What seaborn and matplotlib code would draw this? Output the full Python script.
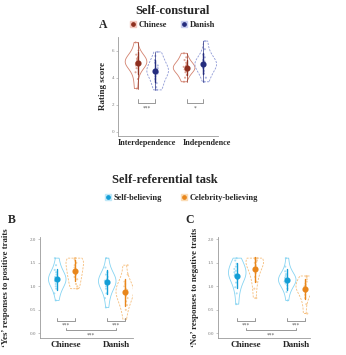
import numpy as np
import pandas as pd
import matplotlib
matplotlib.use("Agg")
import matplotlib.pyplot as plt
import matplotlib.transforms as mtrans
from matplotlib.lines import Line2D
import seaborn as sns

sns.set_style("white")
plt.rcParams['font.family'] = ['Liberation Serif', 'DejaVu Serif']

# ---------------- data ----------------
a_categories = ["Interdependence", "Independence"]
a_groups = ["Chinese", "Danish"]
a_inter_chinese = [3.2, 3.9, 4.4, 4.7, 4.9, 5.0, 5.1, 5.1, 5.2, 5.3, 5.4, 5.5, 5.7, 6.0, 6.6]
a_inter_danish = [3.1, 3.3, 3.6, 3.9, 4.1, 4.3, 4.4, 4.5, 4.6, 4.7, 4.9, 5.1, 5.3, 5.6, 5.9]
a_indep_chinese = [3.7, 4.0, 4.2, 4.4, 4.5, 4.6, 4.7, 4.7, 4.8, 4.9, 5.0, 5.1, 5.3, 5.5, 5.8]
a_indep_danish = [3.7, 4.0, 4.3, 4.5, 4.7, 4.8, 4.9, 5.0, 5.1, 5.2, 5.3, 5.5, 5.7, 6.1, 6.7]
a_sig = ["***", "*"]

bc_categories = ["Chinese", "Danish"]
bc_conditions = ["Self-believing", "Celebrity-believing"]
b_chinese_self = [0.70, 0.85, 0.95, 1.00, 1.05, 1.10, 1.12, 1.15, 1.18, 1.20, 1.25, 1.30, 1.35, 1.45, 1.60]
b_chinese_celeb = [0.95, 1.00, 1.05, 1.15, 1.20, 1.25, 1.30, 1.35, 1.40, 1.45, 1.50, 1.55, 1.58, 1.60, 1.60]
b_danish_self = [0.55, 0.75, 0.85, 0.95, 1.00, 1.05, 1.08, 1.10, 1.12, 1.15, 1.20, 1.25, 1.30, 1.40, 1.60]
b_danish_celeb = [0.30, 0.50, 0.60, 0.68, 0.75, 0.80, 0.85, 0.88, 0.92, 0.95, 1.00, 1.05, 1.10, 1.25, 1.45]
c_chinese_self = [0.62, 0.85, 0.98, 1.08, 1.15, 1.20, 1.23, 1.26, 1.30, 1.33, 1.37, 1.42, 1.48, 1.55, 1.60]
c_chinese_celeb = [0.75, 0.95, 1.10, 1.20, 1.28, 1.35, 1.40, 1.45, 1.50, 1.52, 1.55, 1.58, 1.60, 1.60, 1.60]
c_danish_self = [0.70, 0.88, 0.95, 1.02, 1.06, 1.10, 1.12, 1.14, 1.16, 1.18, 1.22, 1.26, 1.32, 1.42, 1.60]
c_danish_celeb = [0.42, 0.62, 0.75, 0.82, 0.88, 0.92, 0.95, 0.98, 1.00, 1.03, 1.06, 1.10, 1.15, 1.20, 1.22]
bc_sig = "***"

a_line = {"Chinese": "#d3826f", "Danish": "#8d98d6"}
a_dark = {"Chinese": "#8e2f1f", "Danish": "#262d7e"}
a_light = {"Chinese": "#f4c9c0", "Danish": "#c9cff0"}
bc_line = {"Self-believing": "#86d4f2", "Celebrity-believing": "#f6bd7a"}
bc_dark = {"Self-believing": "#139ed6", "Celebrity-believing": "#e8861b"}
bc_light = {"Self-believing": "#bfe8f8", "Celebrity-believing": "#fbdcb5"}


def long_frame(xcat, hcat, table):
    rows = []
    for (x, h), vals in table.items():
        for v in vals:
            rows.append({xcat: x, hcat: h, "value": v})
    return pd.DataFrame(rows)


df_a = long_frame("cat", "group", {
    ("Interdependence", "Chinese"): a_inter_chinese,
    ("Interdependence", "Danish"): a_inter_danish,
    ("Independence", "Chinese"): a_indep_chinese,
    ("Independence", "Danish"): a_indep_danish,
})
df_b = long_frame("cat", "group", {
    ("Chinese", "Self-believing"): b_chinese_self,
    ("Chinese", "Celebrity-believing"): b_chinese_celeb,
    ("Danish", "Self-believing"): b_danish_self,
    ("Danish", "Celebrity-believing"): b_danish_celeb,
})
df_c = long_frame("cat", "group", {
    ("Chinese", "Self-believing"): c_chinese_self,
    ("Chinese", "Celebrity-believing"): c_chinese_celeb,
    ("Danish", "Self-believing"): c_danish_self,
    ("Danish", "Celebrity-believing"): c_danish_celeb,
})

W, H = 346, 355
fig = plt.figure(figsize=(W / 100, H / 100), dpi=100)

def px_axes(l, t, r, b):
    return fig.add_axes([l / W, 1 - b / H, (r - l) / W, (b - t) / H])

ax_a = px_axes(118, 37, 218, 136)
ax_b = px_axes(40, 237, 133, 338)
ax_c = px_axes(218, 237, 310, 338)

DODGE = 0.35


def draw_panel(ax, df, order, hue_order, line_c, dark_c, err_main, seed, vwidth):
    for i, h in enumerate(hue_order):
        sub = df[df["group"] == h]
        sns.violinplot(data=sub, x="cat", y="value", hue="group", order=order,
                       hue_order=hue_order, palette=line_c, fill=False, inner=None,
                       cut=0, width=vwidth, dodge=True, density_norm="width",
                       linewidth=0.6, bw_adjust=0.9, legend=False, ax=ax,
                       linestyle="-" if i == 0 else (0, (2.5, 1.5)))
    np.random.seed(seed)
    sns.stripplot(data=df, x="cat", y="value", hue="group", order=order,
                  hue_order=hue_order, palette=line_c, dodge=True, jitter=0.07,
                  size=1.5, alpha=0.7, legend=False, ax=ax, zorder=2)
    sns.pointplot(data=df, x="cat", y="value", hue="group", order=order,
                  hue_order=hue_order, palette=dark_c, dodge=DODGE,
                  errorbar=err_main, linestyle="none", markers="", legend=False,
                  err_kws={"linewidth": 0.5}, ax=ax)
    sns.pointplot(data=df, x="cat", y="value", hue="group", order=order,
                  hue_order=hue_order, palette=dark_c, dodge=DODGE,
                  errorbar="sd", linestyle="none", markers="o", markersize=2.4,
                  legend=False, err_kws={"linewidth": 1.0}, ax=ax)
    for sp in ["top", "right"]:
        ax.spines[sp].set_visible(False)
    for sp in ["left", "bottom"]:
        ax.spines[sp].set_color("#9a9a9a")
        ax.spines[sp].set_linewidth(0.6)
    ax.tick_params(axis="y", labelsize=3.6, labelcolor="#777777", length=1.2,
                   width=0.4, color="#9a9a9a", pad=1.5, left=True)
    ax.tick_params(axis="x", length=0, pad=2.5)
    ax.set_xlabel("")


def bracket(ax, x0, x1, y, tick, text, ty, color="#888888"):
    ax.plot([x0, x0, x1, x1], [y + tick, y, y, y + tick], color=color, lw=0.6)
    ax.text((x0 + x1) / 2, ty, text, ha="center", va="center", fontsize=4,
            color="#555555", family="DejaVu Sans")


# ---------- Panel A ----------
draw_panel(ax_a, df_a, a_categories, a_groups, a_line, a_dark, ("pi", 100), 1, 0.9)
ax_a.set_ylim(-0.3, 7.0)
ax_a.set_xlim(-0.6, 1.48)
ax_a.set_yticks([0, 2, 4, 6])
ax_a.set_ylabel("Rating score", fontsize=6.5, fontweight="bold", labelpad=3)
for lab in ax_a.get_xticklabels():
    lab.set_fontweight("bold")
    lab.set_fontsize(5.9)
xl = ax_a.get_xticklabels()
xl[1].set_transform(xl[1].get_transform() +
                    mtrans.ScaledTranslation(0.12, 0, fig.dpi_scale_trans))
for k, s in enumerate(a_sig):
    bracket(ax_a, k - DODGE / 2, k + DODGE / 2, 2.1, 0.35, s, 1.75)

# ---------- Panels B & C ----------
draw_panel(ax_b, df_b, bc_categories, bc_conditions, bc_line, bc_dark, "sd", 2, 0.7)
draw_panel(ax_c, df_c, bc_categories, bc_conditions, bc_line, bc_dark, "sd", 3, 0.7)
for ax, xlim in [(ax_b, (-0.52, 1.34)), (ax_c, (-0.56, 1.28))]:
    ax.set_ylim(-0.1, 2.05)
    ax.set_xlim(*xlim)
    ax.set_yticks([0.0, 0.5, 1.0, 1.5, 2.0])
    ax.set_yticklabels(["0.0", "0.5", "1.0", "1.5", "2.0"])
    for lab in ax.get_xticklabels():
        lab.set_fontweight("bold")
        lab.set_fontsize(6.6)
    for k in range(2):
        bracket(ax, k - DODGE / 2, k + DODGE / 2, 0.27, 0.06, bc_sig, 0.17)
    bracket(ax, 0, 1, 0.06, 0.06, bc_sig, -0.04)
ax_b.set_ylabel("\u2018Yes\u2019 responses to positive traits", fontsize=6.3,
                fontweight="bold", labelpad=14)
ax_c.set_ylabel("\u2018No\u2019 responses to negative traits", fontsize=6.3,
                fontweight="bold", labelpad=6)

# ---------- titles, letters, legends ----------
fig.text(172 / W, 1 - 11 / H, "Self-constural", ha="center", va="center",
         fontsize=9, fontweight="bold")
fig.text(165 / W, 1 - 180 / H, "Self-referential task", ha="center", va="center",
         fontsize=9, fontweight="bold")
fig.text(103 / W, 1 - 25 / H, "A", ha="center", va="center", fontsize=8.5, fontweight="bold")
fig.text(12 / W, 1 - 220 / H, "B", ha="center", va="center", fontsize=8.5, fontweight="bold")
fig.text(190 / W, 1 - 220 / H, "C", ha="center", va="center", fontsize=8.5, fontweight="bold")


def legend_handles(levels, light, dark):
    hs = []
    for lv in levels:
        sq = Line2D([], [], marker="s", linestyle="none", markersize=5,
                    markerfacecolor=light[lv], markeredgecolor=light[lv])
        dot = Line2D([], [], marker="o", linestyle="none", markersize=2.4,
                     markerfacecolor=dark[lv], markeredgecolor=dark[lv])
        hs.append((sq, dot))
    return hs


fig.legend(legend_handles(a_groups, a_light, a_dark), a_groups,
           loc="center", bbox_to_anchor=(172 / W, 1 - 25 / H), ncol=2,
           frameon=False, prop={"size": 6, "weight": "bold"},
           handlelength=0.8, handletextpad=0.3, columnspacing=1.6,
           borderpad=0)
fig.legend(legend_handles(bc_conditions, bc_light, bc_dark), bc_conditions,
           loc="center", bbox_to_anchor=(181 / W, 1 - 198 / H), ncol=2,
           frameon=False, prop={"size": 6, "weight": "bold"},
           handlelength=0.8, handletextpad=0.3, columnspacing=2.2,
           borderpad=0)

fig.savefig("out.png", dpi=100)
